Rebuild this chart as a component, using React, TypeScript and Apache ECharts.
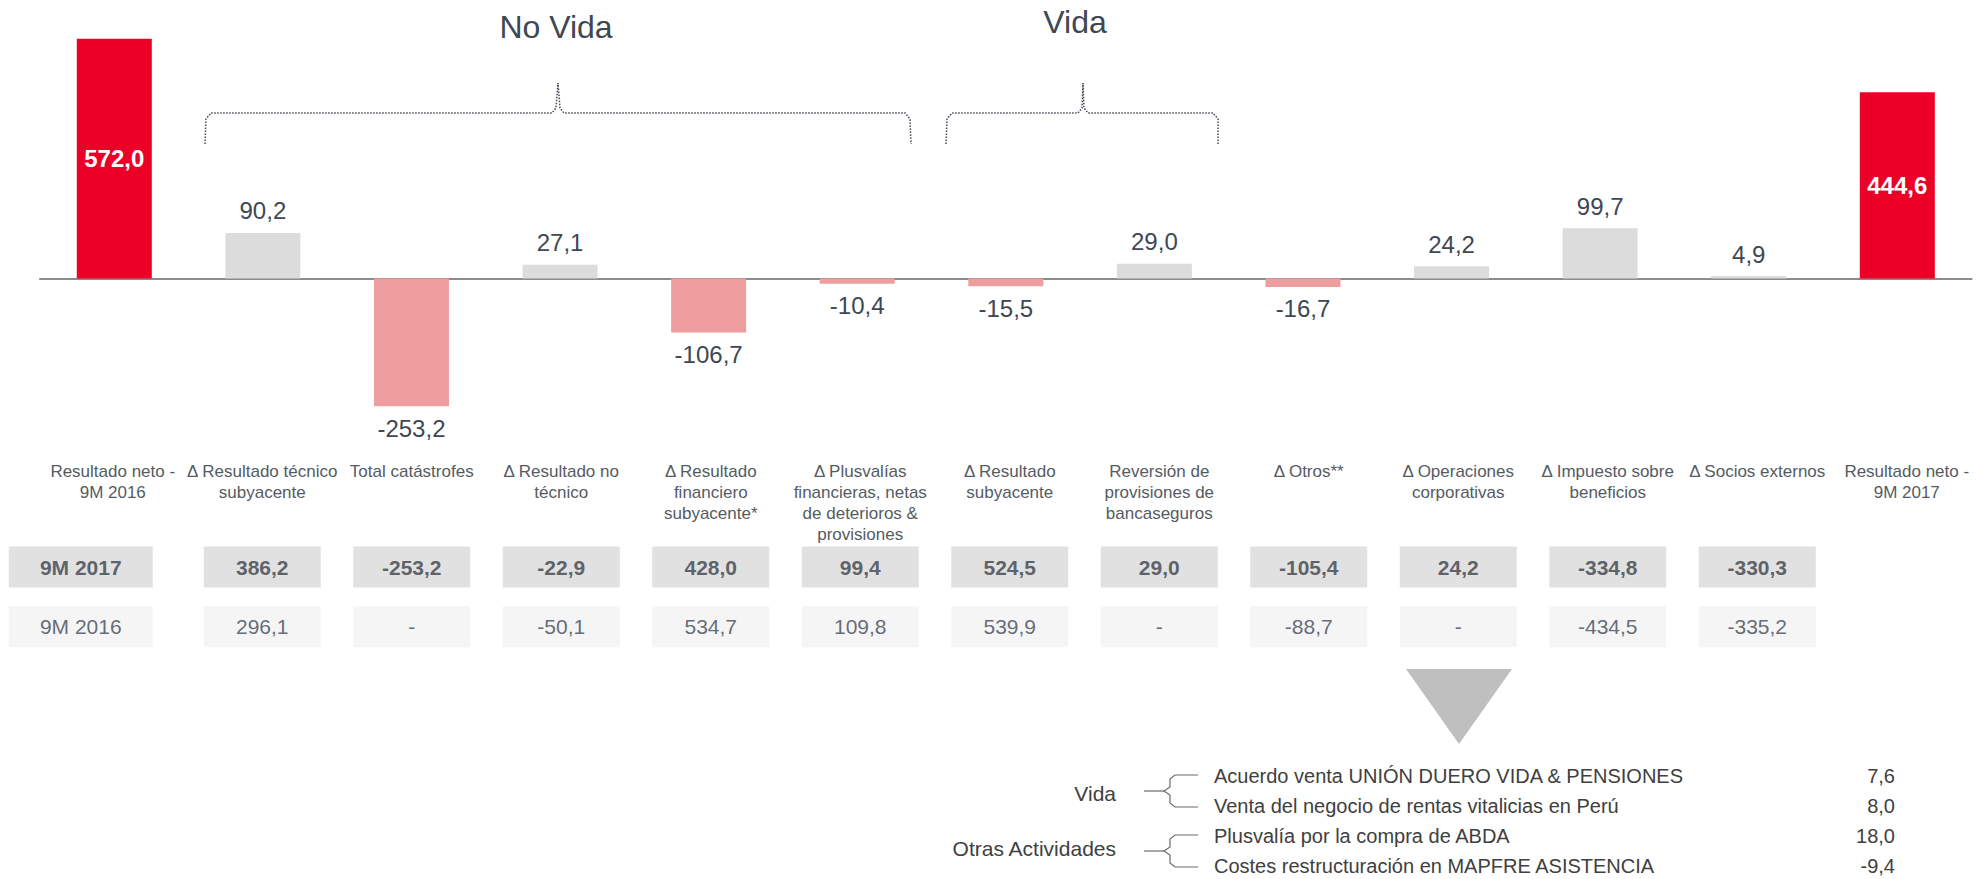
import React, { useEffect, useRef } from "react";
import * as echarts from "echarts";

// ---------- data ----------
const categories = [
  "Resultado neto -\n9M 2016",
  "Δ Resultado técnico\nsubyacente",
  "Total catástrofes",
  "Δ Resultado no\ntécnico",
  "Δ Resultado\nfinanciero\nsubyacente*",
  "Δ Plusvalías\nfinancieras, netas\nde deterioros &\nprovisiones",
  "Δ Resultado\nsubyacente",
  "Reversión de\nprovisiones de\nbancaseguros",
  "Δ Otros**",
  "Δ Operaciones\ncorporativas",
  "Δ Impuesto sobre\nbeneficios",
  "Δ Socios externos",
  "Resultado neto -\n9M 2017",
];

const totalValues = [572.0, null, null, null, null, null, null, null, null, null, null, null, 444.6];
const changeValues = [null, 90.2, -253.2, 27.1, -106.7, -10.4, -15.5, 29.0, -16.7, 24.2, 99.7, 4.9, null];

const tableRows = ["9M 2017", "9M 2016"];
const values2017 = [null, 386.2, -253.2, -22.9, 428.0, 99.4, 524.5, 29.0, -105.4, 24.2, -334.8, -330.3, null];
const values2016 = [null, 296.1, "-", -50.1, 534.7, 109.8, 539.9, "-", -88.7, "-", -434.5, -335.2, null];

const groupTitles = ["No Vida", "Vida"];

const noteGroups = ["Vida", "Otras Actividades"];
const noteItems = [
  "Acuerdo venta UNIÓN DUERO VIDA & PENSIONES",
  "Venta del negocio de rentas vitalicias en Perú",
  "Plusvalía por la compra de ABDA",
  "Costes restructuración en MAPFRE ASISTENCIA",
];
const noteValues = [7.6, 8.0, 18.0, -9.4];

// ---------- styling ----------
const FONT = "'Liberation Sans', Arial, sans-serif";
const RED = "#EC0028";
const GREY = "#DCDCDC";
const PINK = "#EE9E9E";
const DARK = "#3E4753";

const fmt = (v: number) => v.toFixed(1).replace(".", ",");

function buildOption() {
  const changeData = changeValues.map((v) =>
    v === null
      ? null
      : {
          value: v,
          itemStyle: { color: v >= 0 ? GREY : PINK },
          label: { position: v >= 0 ? "top" : "bottom" },
        }
  );

  const rowColors = ["#D9D9D9", "#F2F2F2"];
  const rowLabel = [
    { fontWeight: "bold", color: "#3A4049", fontSize: 21 },
    { fontWeight: "normal", color: DARK, fontSize: 21 },
  ];
  const tableCells: any[] = [];
  [values2017, values2016].forEach((vals, r) => {
    tableCells.push({
      value: [0, r],
      name: tableRows[r],
      symbolSize: [144, 41],
      symbolOffset: [-32, 0],
      itemStyle: { color: rowColors[r] },
      label: rowLabel[r],
    });
    vals.forEach((v: any, i: number) => {
      if (v === null) return;
      tableCells.push({
        value: [i, r],
        name: typeof v === "number" ? fmt(v) : v,
        itemStyle: { color: rowColors[r] },
        label: rowLabel[r],
      });
    });
  });

  const braceStyle = { stroke: "#3F4752", lineWidth: 1.5, lineDash: [1.5, 1.5], fill: "none" };
  const curlyStyle = { stroke: "#6b6b6b", lineWidth: 1.2, fill: "none" };
  const noteY = [776, 806, 836, 866];

  const graphic: any[] = [
    { type: "text", x: 556, y: 27, style: { text: groupTitles[0], fontSize: 32, fontFamily: FONT, fill: DARK, align: "center", verticalAlign: "middle" } },
    { type: "text", x: 1075, y: 22, style: { text: groupTitles[1], fontSize: 32, fontFamily: FONT, fill: DARK, align: "center", verticalAlign: "middle" } },
    {
      type: "polyline",
      shape: { points: [[205, 144], [206, 119], [211, 113], [552, 113], [556, 108], [558, 83], [560, 108], [564, 113], [905, 113], [910, 119], [911, 144]] },
      style: braceStyle,
    },
    {
      type: "polyline",
      shape: { points: [[946, 144], [947, 119], [952, 113], [1078, 113], [1082, 108], [1083, 83], [1084, 108], [1088, 113], [1213, 113], [1218, 119], [1218, 144]] },
      style: braceStyle,
    },
    { type: "polygon", shape: { points: [[1406, 669], [1512, 669], [1459, 744]] }, style: { fill: "#BFBFBF" } },
  ];

  noteGroups.forEach((g, k) => {
    const top = noteY[k * 2];
    const bot = noteY[k * 2 + 1];
    const mid = (top + bot) / 2;
    graphic.push({ type: "text", x: 1116, y: mid + (k === 0 ? 2 : -3), style: { text: g, fontSize: 21, fontFamily: FONT, fill: "#404040", align: "right", verticalAlign: "middle" } });
    graphic.push({
      type: "polyline",
      shape: { points: [[1198, top - 1], [1175, top - 1], [1170, top + 3], [1170, mid - 4], [1164, mid], [1170, mid + 4], [1170, bot - 3], [1175, bot + 1], [1198, bot + 1]] },
      style: curlyStyle,
    });
    graphic.push({ type: "line", shape: { x1: 1144, y1: mid, x2: 1164, y2: mid }, style: curlyStyle });
  });
  noteItems.forEach((t, k) => {
    graphic.push({ type: "text", x: 1214, y: noteY[k], style: { text: t, fontSize: 20, fontFamily: FONT, fill: "#404040", align: "left", verticalAlign: "middle" } });
    graphic.push({ type: "text", x: 1895, y: noteY[k], style: { text: fmt(noteValues[k]), fontSize: 20, fontFamily: FONT, fill: "#404040", align: "right", verticalAlign: "middle" } });
  });

  return {
    animation: false,
    textStyle: { fontFamily: FONT },
    grid: [
      { left: 40, top: 26, width: 1931.6, height: 383.8 },
      { left: 38, top: 537.2, width: 1943.5, height: 119.4 },
    ],
    xAxis: [
      {
        type: "category",
        gridIndex: 0,
        data: categories,
        axisLine: { onZero: true, lineStyle: { color: "#8C8C8C", width: 2 } },
        axisTick: { show: false },
        axisLabel: { show: false },
        splitLine: { show: false },
      },
      {
        type: "category",
        gridIndex: 1,
        position: "top",
        data: categories,
        axisLine: { show: false },
        axisTick: { show: false },
        splitLine: { show: false },
        axisLabel: {
          interval: 0,
          margin: 76,
          verticalAlign: "top",
          align: "center",
          fontSize: 17,
          lineHeight: 21,
          color: "#555B63",
          fontFamily: FONT,
        },
      },
    ],
    yAxis: [
      { type: "value", gridIndex: 0, min: -260, max: 500, show: false },
      { type: "value", gridIndex: 0, min: -313.4, max: 602.6, show: false },
      { type: "category", gridIndex: 1, data: tableRows, inverse: true, show: false },
    ],
    series: [
      {
        name: "Resultado neto",
        type: "bar",
        xAxisIndex: 0,
        yAxisIndex: 1,
        data: totalValues,
        barWidth: 75,
        barGap: "-100%",
        itemStyle: { color: RED },
        label: {
          show: true,
          position: "inside",
          color: "#FFFFFF",
          fontWeight: "bold",
          fontSize: 24,
          fontFamily: FONT,
          formatter: (p: any) => fmt(p.value),
        },
      },
      {
        name: "Variación",
        type: "bar",
        xAxisIndex: 0,
        yAxisIndex: 0,
        data: changeData,
        barWidth: 75,
        barGap: "-100%",
        label: {
          show: true,
          distance: 10,
          color: DARK,
          fontSize: 24,
          fontFamily: FONT,
          formatter: (p: any) => fmt(p.value),
        },
      },
      {
        name: "Tabla",
        type: "scatter",
        xAxisIndex: 1,
        yAxisIndex: 2,
        symbol: "rect",
        symbolSize: [117, 41],
        data: tableCells,
        label: { show: true, position: "inside", formatter: "{b}", fontFamily: FONT },
        emphasis: { disabled: true },
      },
    ],
    graphic,
  };
}

export default function App() {
  const ref = useRef<HTMLDivElement>(null);
  useEffect(() => {
    if (!ref.current) return;
    const chart = echarts.init(ref.current, null, { renderer: "svg" });
    chart.setOption(buildOption() as any);
    return () => chart.dispose();
  }, []);
  return (
    <div
      ref={ref}
      style={{ position: "absolute", left: 0, top: 0, width: 1982, height: 879, background: "#FFFFFF" }}
    />
  );
}
